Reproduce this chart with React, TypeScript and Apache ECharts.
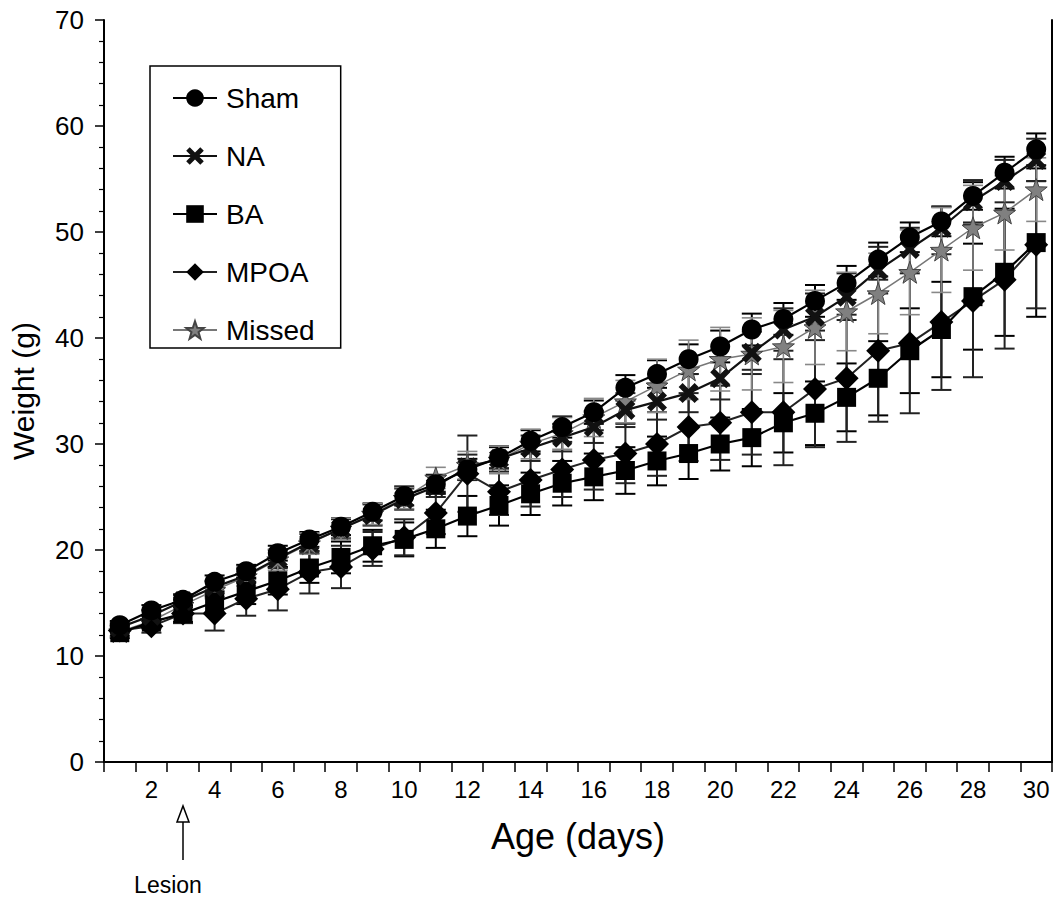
import React, { useEffect, useRef } from "react";
import * as echarts from "echarts";

const days: string[] = Array.from({ length: 30 }, (_, i) => String(i + 1));

const shamMean = [12.9, 14.3, 15.3, 17.0, 18.0, 19.7, 21.0, 22.2, 23.6, 25.1, 26.2, 27.6, 28.7, 30.3, 31.6, 33.0, 35.3, 36.6, 38.0, 39.2, 40.8, 41.8, 43.5, 45.2, 47.4, 49.5, 51.0, 53.4, 55.6, 57.8];
const shamErr = [0.4, 0.5, 0.5, 0.6, 0.6, 0.7, 0.7, 0.8, 0.8, 0.9, 0.9, 1.0, 1.0, 1.0, 1.0, 1.1, 1.2, 1.3, 1.4, 1.5, 1.5, 1.5, 1.5, 1.6, 1.6, 1.4, 1.4, 1.3, 1.5, 1.5];

const naMean = [12.7, 13.8, 15.2, 16.5, 17.6, 19.2, 20.7, 22.0, 23.3, 24.8, 26.0, 27.8, 28.6, 29.6, 30.6, 31.6, 33.2, 34.0, 34.8, 36.2, 38.6, 40.8, 42.0, 43.9, 46.4, 48.4, 50.4, 52.9, 54.8, 56.8];
const naErr = [0.4, 0.5, 0.6, 0.6, 0.7, 0.8, 0.8, 0.9, 1.0, 1.0, 1.0, 1.2, 1.2, 1.2, 1.3, 1.5, 1.6, 1.7, 1.8, 2.0, 2.0, 2.0, 2.2, 2.2, 2.2, 2.0, 2.0, 2.0, 2.0, 2.0];

const baMean = [12.2, 13.2, 14.0, 15.1, 16.1, 17.1, 18.3, 19.3, 20.4, 21.0, 22.0, 23.2, 24.2, 25.3, 26.3, 26.9, 27.5, 28.4, 29.1, 30.0, 30.6, 32.0, 32.9, 34.4, 36.2, 38.8, 40.8, 43.9, 46.2, 49.0];
const baErr = [0.5, 0.6, 0.8, 1.0, 1.2, 1.3, 1.4, 1.5, 1.5, 1.6, 1.8, 1.9, 1.9, 2.0, 2.1, 2.2, 2.2, 2.3, 2.4, 2.5, 2.7, 2.8, 3.0, 3.2, 3.5, 4.0, 4.5, 5.0, 6.0, 7.0];

const mpoaMean = [12.4, 12.8, 14.0, 14.0, 15.4, 16.3, 17.9, 18.4, 20.1, 21.2, 23.5, 27.2, 25.5, 26.6, 27.6, 28.5, 29.1, 30.0, 31.6, 32.0, 33.0, 33.0, 35.2, 36.2, 38.8, 39.5, 41.5, 43.5, 45.5, 48.8];
const mpoaErr = [0.5, 0.6, 0.9, 1.6, 1.6, 2.0, 2.0, 2.0, 1.6, 1.7, 2.0, 3.6, 2.2, 2.5, 2.6, 2.8, 2.8, 3.0, 3.2, 3.5, 4.0, 5.0, 5.5, 6.0, 6.7, 6.6, 6.4, 7.2, 6.5, 6.0];

const missedMean = [12.3, 13.3, 14.8, 16.2, 17.5, 19.1, 20.6, 22.0, 23.4, 24.9, 26.8, 28.0, 28.5, 30.0, 31.0, 32.5, 34.0, 35.5, 37.0, 38.0, 38.5, 39.2, 41.0, 42.5, 44.2, 46.2, 48.3, 50.4, 51.8, 54.0];
const missedErr = [0.5, 0.6, 0.7, 0.8, 0.9, 1.0, 1.0, 1.0, 1.0, 1.0, 1.0, 1.3, 1.3, 1.4, 1.5, 1.8, 2.0, 2.5, 2.8, 3.0, 3.4, 3.4, 3.5, 3.7, 3.8, 4.0, 4.0, 4.0, 3.5, 3.0];

const yTicks = { min: 0, max: 70, interval: 10 };
const lesionDay = "3";

const FONT = "'Liberation Sans', Arial, Helvetica, sans-serif";

const X_PATH = "path://M0,4 L4,0 L10,6 L16,0 L20,4 L14,10 L20,16 L16,20 L10,14 L4,20 L0,16 L6,10 Z";
const STAR_PATH = "path://M10,0 L12.35,6.76 L19.51,6.91 L13.8,11.24 L15.88,18.09 L10,14 L4.12,18.09 L6.2,11.24 L0.49,6.91 L7.65,6.76 Z";

type Group = {
  name: string;
  mean: number[];
  err: number[];
  symbol: string;
  size: number;
  color: string;
  lineColor: string;
  lineWidth: number;
  barColor: string;
  border?: string;
};

const groups: Group[] = [
  { name: "Sham", mean: shamMean, err: shamErr, symbol: "circle", size: 20, color: "#000", lineColor: "#000", lineWidth: 2.2, barColor: "#000" },
  { name: "NA", mean: naMean, err: naErr, symbol: X_PATH, size: 20, color: "#111", lineColor: "#111", lineWidth: 2.2, barColor: "#222" },
  { name: "BA", mean: baMean, err: baErr, symbol: "rect", size: 19, color: "#000", lineColor: "#000", lineWidth: 2.2, barColor: "#000" },
  { name: "MPOA", mean: mpoaMean, err: mpoaErr, symbol: "diamond", size: 24, color: "#000", lineColor: "#222", lineWidth: 2, barColor: "#222" },
  { name: "Missed", mean: missedMean, err: missedErr, symbol: STAR_PATH, size: 22, color: "#808080", lineColor: "#777", lineWidth: 1.5, barColor: "#888", border: "#444" },
];

export default function App() {
  const ref = useRef<HTMLDivElement>(null);

  useEffect(() => {
    if (!ref.current) return;
    const chart = echarts.init(ref.current, undefined, { renderer: "svg" });

    const errSeries = groups.map((g, gi) => ({
      type: "custom",
      name: g.name + " err",
      z: 1,
      data: g.mean.map((m, i) => [i, m, g.err[i]]),
      encode: { x: 0, y: 1 },
      renderItem: (params: any, api: any) => {
        const x = api.value(0);
        const y = api.value(1);
        const e = api.value(2);
        const top = api.coord([x, y + e]);
        const bot = api.coord([x, y - e]);
        const w = 10;
        const style = { stroke: g.barColor, lineWidth: gi === 4 ? 1.6 : 2 };
        return {
          type: "group",
          children: [
            { type: "line", shape: { x1: top[0], y1: top[1], x2: bot[0], y2: bot[1] }, style },
            { type: "line", shape: { x1: top[0] - w, y1: top[1], x2: top[0] + w, y2: top[1] }, style },
            { type: "line", shape: { x1: bot[0] - w, y1: bot[1], x2: bot[0] + w, y2: bot[1] }, style },
          ],
        };
      },
    }));

    const lineSeries = groups.map((g, gi) => ({
      type: "line",
      name: g.name,
      data: g.mean,
      z: 3 + (4 - gi),
      symbol: g.symbol,
      symbolSize: g.size,
      showAllSymbol: true,
      lineStyle: { color: g.lineColor, width: g.lineWidth },
      itemStyle: { color: g.color, borderColor: g.border || g.color, borderWidth: g.border ? 1 : 0 },
      emphasis: { disabled: true },
    }));

    chart.setOption({
      animation: false,
      backgroundColor: "#fff",
      textStyle: { fontFamily: FONT },
      grid: { left: 103, right: 10, top: 20, bottom: 140, containLabel: false },
      legend: {
        data: groups.map((g) => g.name),
        orient: "vertical",
        left: 150,
        top: 66,
        padding: [18, 26, 4, 22],
        itemGap: 30,
        itemWidth: 44,
        itemHeight: 22,
        borderColor: "#000",
        borderWidth: 1.5,
        backgroundColor: "#fff",
        selectedMode: false,
        textStyle: { fontFamily: FONT, fontSize: 28, color: "#000", lineHeight: 28, padding: [0, 0, 0, 4] },
      },
      xAxis: {
        type: "category",
        data: days,
        boundaryGap: true,
        name: "Age (days)",
        nameLocation: "middle",
        nameGap: 56,
        nameTextStyle: { fontFamily: FONT, fontSize: 36, color: "#000" },
        axisLine: { lineStyle: { color: "#000", width: 2 } },
        axisTick: { show: true, interval: 0, length: 10, lineStyle: { color: "#000", width: 1.5 } },
        axisLabel: {
          interval: (index: number) => index % 2 === 1,
          margin: 15,
          fontFamily: FONT,
          fontSize: 24,
          color: "#000",
        },
        splitLine: { show: false },
      },
      yAxis: [
        {
          type: "value",
          min: yTicks.min,
          max: yTicks.max,
          interval: yTicks.interval,
          name: "Weight (g)",
          nameLocation: "middle",
          nameGap: 66,
          nameTextStyle: { fontFamily: FONT, fontSize: 30, color: "#000" },
          axisLine: { show: true, lineStyle: { color: "#000", width: 2 } },
          axisTick: { show: true, length: 9, lineStyle: { color: "#000", width: 1.5 } },
          minorTick: { show: true, splitNumber: 5, length: 5, lineStyle: { color: "#000", width: 1.2 } },
          axisLabel: { margin: 20, fontFamily: FONT, fontSize: 26, color: "#000" },
          splitLine: { show: false },
        },
        {
          type: "value",
          min: yTicks.min,
          max: yTicks.max,
          interval: yTicks.interval,
          position: "right",
          axisLine: { show: true, lineStyle: { color: "#000", width: 2 } },
          axisTick: { show: false },
          axisLabel: { show: false },
          splitLine: { show: false },
        },
      ],
      series: [...errSeries, ...lineSeries],
    });

    const lx = chart.convertToPixel({ xAxisIndex: 0 }, lesionDay) as number;
    chart.setOption({
      graphic: [
        {
          type: "group",
          children: [
            { type: "line", shape: { x1: lx, y1: 860, x2: lx, y2: 822 }, style: { stroke: "#000", lineWidth: 1.5 } },
            { type: "polygon", shape: { points: [[lx - 6, 822], [lx + 6, 822], [lx, 806]] }, style: { fill: "#fff", stroke: "#000", lineWidth: 1.5 } },
            { type: "text", x: lx - 15, y: 885, style: { text: "Lesion", fontFamily: FONT, fontSize: 23, fill: "#000", align: "center", verticalAlign: "middle" } },
          ],
        },
      ],
    });

    return () => chart.dispose();
  }, []);

  return <div ref={ref} style={{ position: "absolute", left: 0, top: 0, width: 1062, height: 902 }} />;
}
